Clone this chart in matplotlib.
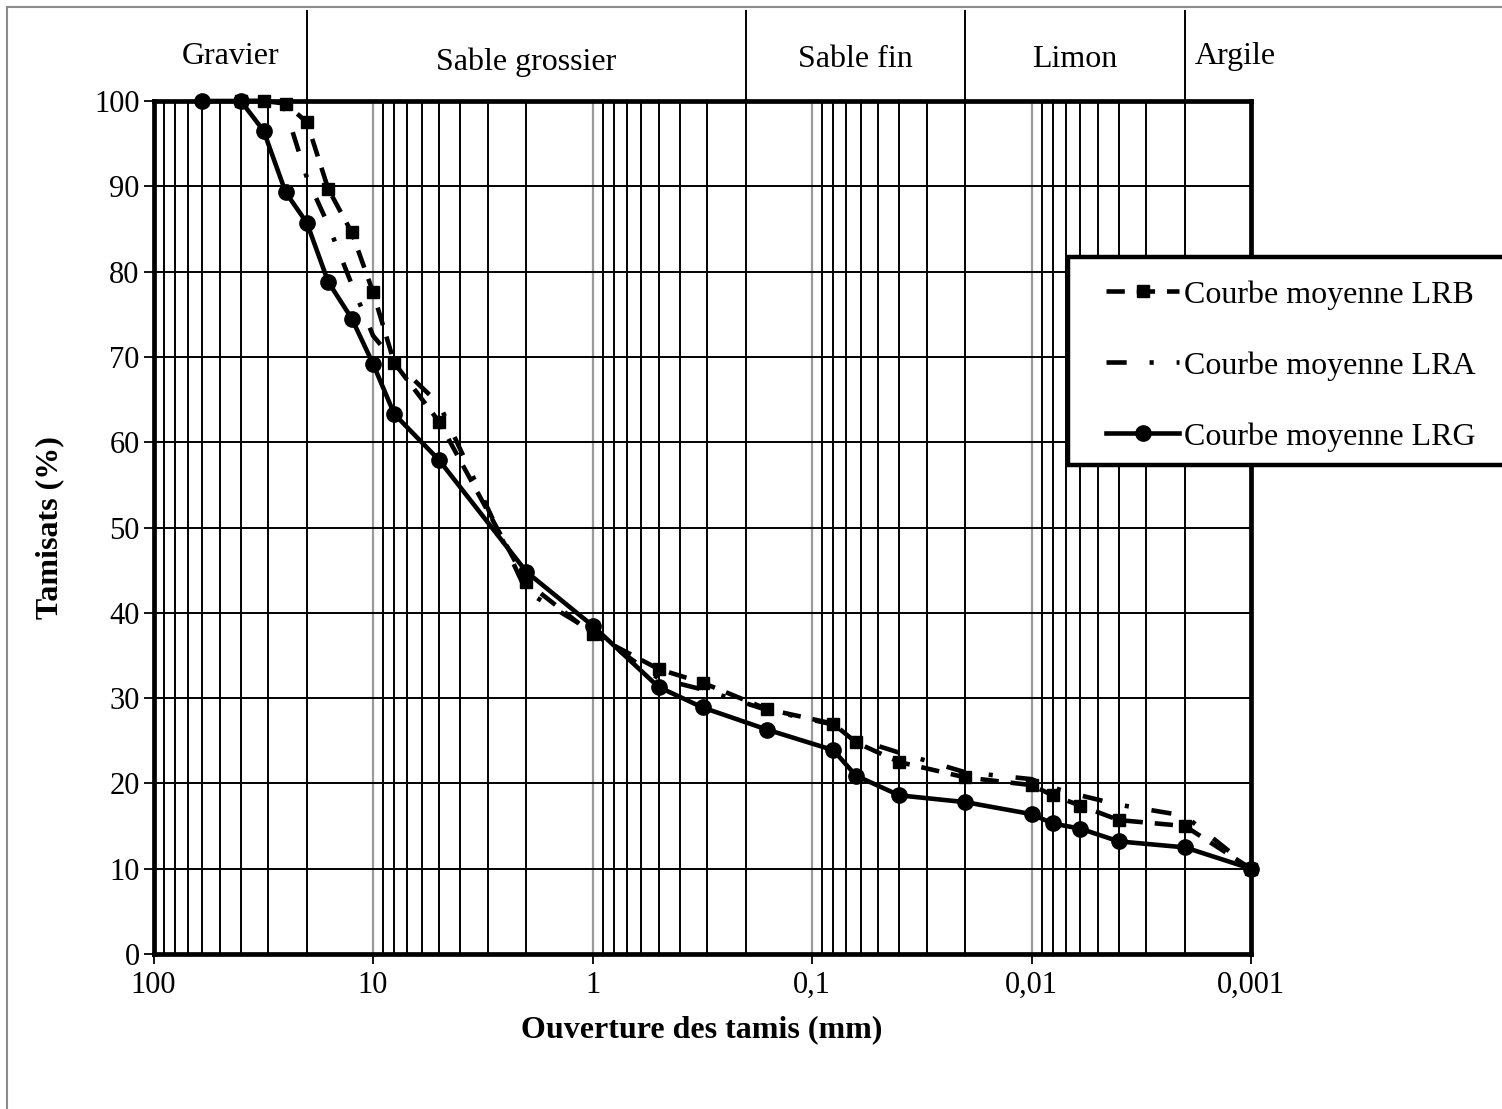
import numpy as np
import matplotlib
matplotlib.use('Agg')
import matplotlib.pyplot as plt
import matplotlib.transforms as mtransforms
from matplotlib.ticker import FixedLocator, FixedFormatter, LogLocator, NullFormatter
from matplotlib.patches import Rectangle
from matplotlib.lines import Line2D

plt.rcParams['font.family'] = ['Liberation Serif', 'DejaVu Serif']

# ---------------- data ----------------
lrb_size = [40, 31.5, 25, 20, 16, 12.5, 10, 8, 5, 2, 1, 0.5, 0.315, 0.16, 0.08,
            0.063, 0.04, 0.02, 0.01, 0.008, 0.006, 0.004, 0.002, 0.001]
lrb_pass = [100, 100, 99.7, 97.5, 89.7, 84.6, 77.6, 69.3, 62.4, 43.6, 37.5, 33.4,
            31.8, 28.7, 27.0, 24.8, 22.5, 20.7, 19.8, 18.6, 17.4, 15.7, 15.0, 10.0]

lra_size = [40, 31.5, 25, 20, 16, 12.5, 10, 8, 5, 2, 1, 0.5, 0.315, 0.16, 0.08,
            0.063, 0.04, 0.02, 0.01, 0.008, 0.006, 0.004, 0.002, 0.001]
lra_pass = [100, 100, 99.0, 91.0, 85.5, 78.5, 72.5, 69.5, 64.5, 42.5, 37.8, 32.3,
            31.0, 28.6, 26.9, 25.2, 23.6, 21.3, 20.5, 19.5, 18.6, 17.5, 16.2, 10.0]

lrg_size = [60, 40, 31.5, 25, 20, 16, 12.5, 10, 8, 5, 2, 1, 0.5, 0.315, 0.16, 0.08,
            0.063, 0.04, 0.02, 0.01, 0.008, 0.006, 0.004, 0.002, 0.001]
lrg_pass = [100, 100, 96.5, 89.3, 85.7, 78.8, 74.5, 69.2, 63.3, 57.9, 44.8, 38.5,
            31.3, 28.9, 26.3, 23.9, 20.9, 18.6, 17.8, 16.4, 15.3, 14.7, 13.2, 12.5, 10.0]

series_labels = ['Courbe moyenne LRB', 'Courbe moyenne LRA', 'Courbe moyenne LRG']

x_ticks = [100, 10, 1, 0.1, 0.01, 0.001]
x_tick_labels = ['100', '10', '1', '0,1', '0,01', '0,001']
y_ticks = [0, 10, 20, 30, 40, 50, 60, 70, 80, 90, 100]

zone_names = ['Gravier', 'Sable grossier', 'Sable fin', 'Limon', 'Argile']
zone_edges = [20, 0.2, 0.02, 0.002]
zone_label_x = [44.7, 2.0, 0.0632, 0.00632, 0.00118]
zone_label_y = [1.0434, 1.0363, 1.0399, 1.0399, 1.0434]

# ---------------- figure ----------------
W, H = 1502, 1109
fig = plt.figure(figsize=(W / 100, H / 100), dpi=100)
fig.patch.set_facecolor('white')

left, right, top, bottom = 153.5 / W, 1251 / W, 1 - 101 / H, 1 - 954 / H
ax = fig.add_axes([left, bottom, right - left, top - bottom])
ax.set_xscale('log')
ax.set_xlim(100, 0.001)
ax.set_ylim(0, 100)

ax.xaxis.set_major_locator(FixedLocator(x_ticks))
ax.xaxis.set_major_formatter(FixedFormatter(x_tick_labels))
ax.xaxis.set_minor_locator(LogLocator(base=10, subs=np.arange(2, 10), numticks=20))
ax.xaxis.set_minor_formatter(NullFormatter())
ax.set_yticks(y_ticks)
ax.set_yticklabels([str(v) for v in y_ticks])

ax.tick_params(axis='both', which='major', labelsize=22, length=7, width=1.3,
               direction='out', color='black', pad=5)
ax.tick_params(axis='x', which='minor', length=0)
ax.tick_params(axis='y', which='major', pad=3)

ax.set_axisbelow(True)
ax.grid(which='major', axis='x', color='#9a9a9a', lw=1.6)
ax.grid(which='minor', axis='x', color='black', lw=1.4)
ax.grid(which='major', axis='y', color='black', lw=1.4)

for sp in ax.spines.values():
    sp.set_linewidth(3.4)
    sp.set_color('black')
    sp.set_zorder(4)

# series
l1, = ax.plot(lrb_size, lrb_pass, color='black', lw=3.3, linestyle=(0, (4.0, 2.6)),
              marker='s', markersize=8.5, zorder=3, clip_on=False)
l2, = ax.plot(lra_size, lra_pass, color='black', lw=3.3,
              linestyle=(0, (4.4, 5.0, 0.9, 5.0)), zorder=3, clip_on=False)
l3, = ax.plot(lrg_size, lrg_pass, color='black', lw=3.3, linestyle='-',
              marker='o', markersize=11, zorder=3, clip_on=False)

# zone band above the plot
trans = mtransforms.blended_transform_factory(ax.transData, ax.transAxes)
for xe in zone_edges:
    ax.plot([xe, xe], [1.0, 1.105], transform=trans, color='black', lw=1.4,
            clip_on=False, zorder=2)
for name, xl, yl in zip(zone_names, zone_label_x, zone_label_y):
    ax.text(xl, yl, name, transform=trans, ha='center', va='baseline', fontsize=23)

# axis labels
fig.text(702 / W, 1 - 1030 / H, 'Ouverture des tamis (mm)', ha='center', va='center',
         fontsize=23, fontweight='bold')
fig.text(50 / W, 1 - 528 / H, 'Tamisats (%)', ha='center', va='center',
         fontsize=23, fontweight='bold', rotation=90)

# outer chart border (left and top)
fig.add_artist(Line2D([7 / W, 7 / W], [0, 1 - 7 / H], transform=fig.transFigure,
                      color='#8c8c8c', lw=1.5))
fig.add_artist(Line2D([7 / W, 1], [1 - 7 / H, 1 - 7 / H], transform=fig.transFigure,
                      color='#8c8c8c', lw=1.5))

# legend box
fig.add_artist(Rectangle((1068 / W, 1 - 465 / H), (1520 - 1068) / W, (465 - 257) / H,
                         transform=fig.transFigure, facecolor='white', edgecolor='black',
                         lw=3.2, zorder=4, clip_on=False))
leg = fig.legend([l1, l2, l3], series_labels, loc='upper left',
                 bbox_to_anchor=(1106 / W, 1 - 280 / H), bbox_transform=fig.transFigure,
                 frameon=False, fontsize=23, handlelength=2.3, handletextpad=0.15,
                 labelspacing=1.3, borderpad=0, borderaxespad=0)
leg.set_zorder(6)

fig.savefig('out.png', dpi=100, facecolor='white')
